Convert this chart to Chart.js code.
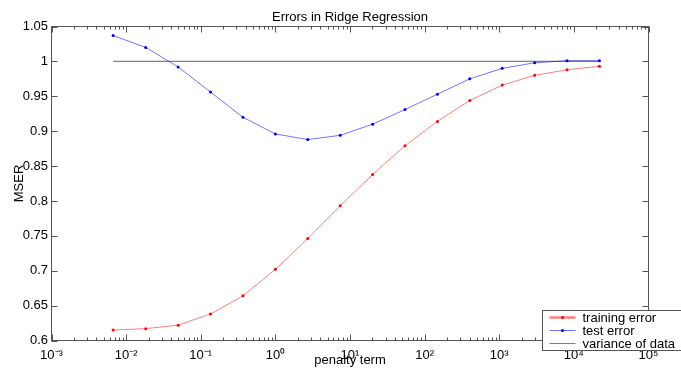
<!DOCTYPE html>
<html>
<head>
<meta charset="utf-8">
<title>Errors in Ridge Regression</title>
<script src="https://cdn.jsdelivr.net/npm/chart.js@4.4.0/dist/chart.umd.min.js"></script>
<style>
  html, body { margin: 0; padding: 0; background: #fff; }
  #wrap { width: 681px; height: 369px; }
</style>
</head>
<body>
<div id="wrap"><canvas id="chart" width="681" height="369"></canvas></div>
<script>
// penalty term values (lambda = e^-5 ... e^10)
const penalty = [0.0067, 0.0183, 0.0498, 0.1353, 0.3679, 1, 2.718, 7.389, 20.09, 54.60, 148.4, 403.4, 1096.6, 2981, 8103, 22026];
const trainingError = [0.615, 0.617, 0.622, 0.638, 0.664, 0.702, 0.746, 0.793, 0.838, 0.879, 0.914, 0.944, 0.966, 0.980, 0.988, 0.993];
const testError = [1.037, 1.020, 0.992, 0.956, 0.920, 0.896, 0.888, 0.894, 0.910, 0.931, 0.953, 0.975, 0.990, 0.998, 1.001, 1.001];
const dataVariance = 1.0;
const seriesNames = ['training error', 'test error', 'variance of data'];
const xTickPowers = [-3, -2, -1, 0, 1, 2, 3, 4, 5];
const yTickValues = [0.6, 0.65, 0.7, 0.75, 0.8, 0.85, 0.9, 0.95, 1, 1.05];
const yTickLabels = ['0.6', '0.65', '0.7', '0.75', '0.8', '0.85', '0.9', '0.95', '1', '1.05'];

const FONT = 'Liberation Sans, Arial, Helvetica, sans-serif';
const SUP = { '-': '\u207B', '0': '\u2070', '1': '\u00B9', '2': '\u00B2', '3': '\u00B3', '4': '\u2074', '5': '\u2075' };

function toPoints(xs, ys) {
  return xs.map((x, i) => ({ x: x, y: ys[i] }));
}

// matlab style box: ticks inside on all four sides
const axesBox = {
  id: 'axesBox',
  afterDatasetsDraw(chart) {
    const { ctx, chartArea: a, scales: { x, y } } = chart;
    ctx.save();
    ctx.strokeStyle = '#555';
    ctx.lineWidth = 1;
    ctx.beginPath();
    yTickValues.forEach(v => {
      const py = Math.round(y.getPixelForValue(v)) + 0.5;
      ctx.moveTo(a.left, py); ctx.lineTo(a.left + 6, py);
      ctx.moveTo(a.right, py); ctx.lineTo(a.right - 6, py);
    });
    xTickPowers.forEach((p, i) => {
      const px = Math.round(x.getPixelForValue(Math.pow(10, p))) + 0.5;
      ctx.moveTo(px, a.bottom); ctx.lineTo(px, a.bottom - 6);
      ctx.moveTo(px, a.top); ctx.lineTo(px, a.top + 6);
      if (i < xTickPowers.length - 1) {
        for (let m = 2; m < 10; m++) {
          const mx = Math.round(x.getPixelForValue(m * Math.pow(10, p))) + 0.5;
          ctx.moveTo(mx, a.bottom); ctx.lineTo(mx, a.bottom - 3);
          ctx.moveTo(mx, a.top); ctx.lineTo(mx, a.top + 3);
        }
      }
    });
    ctx.stroke();
    ctx.strokeRect(a.left, a.top, a.right - a.left, a.bottom - a.top);
    ctx.restore();
  }
};

// boxed legend in the lower right corner
const boxLegend = {
  id: 'boxLegend',
  afterDraw(chart) {
    const ctx = chart.ctx;
    const bx = 542.5, by = 310.5, bw = 140, bh = 40;
    ctx.save();
    ctx.fillStyle = '#fff';
    ctx.fillRect(bx, by, bw, bh);
    ctx.strokeStyle = '#555';
    ctx.lineWidth = 1;
    ctx.strokeRect(bx, by, bw, bh);
    ctx.font = '13px ' + FONT;
    ctx.textBaseline = 'middle';
    chart.data.datasets.forEach((ds, i) => {
      const cy = by + 7 + i * 13;
      ctx.strokeStyle = ds.borderColor;
      ctx.lineWidth = ds.legendWidth;
      ctx.beginPath();
      ctx.moveTo(bx + 7, cy); ctx.lineTo(bx + 33, cy);
      ctx.stroke();
      if (ds.pointRadius > 0) {
        ctx.fillStyle = ds.pointBackgroundColor;
        ctx.beginPath();
        ctx.arc(bx + 20, cy, 1.5, 0, Math.PI * 2);
        ctx.fill();
      }
      ctx.fillStyle = '#000';
      ctx.fillText(ds.label, bx + 40, cy + 0.5);
    });
    ctx.restore();
  }
};

const ctx = document.getElementById('chart').getContext('2d');
const myChart = new Chart(ctx, {
  type: 'scatter',
  data: {
    datasets: [{
      label: seriesNames[0],
      data: toPoints(penalty, trainingError),
      showLine: true,
      borderColor: 'rgba(255, 0, 0, 0.5)',
      borderWidth: 1,
      pointRadius: 1.5,
      pointBackgroundColor: 'rgb(255, 0, 0)',
      pointBorderWidth: 0,
      legendWidth: 2.5
    }, {
      label: seriesNames[1],
      data: toPoints(penalty, testError),
      showLine: true,
      borderColor: 'rgba(0, 0, 255, 0.55)',
      borderWidth: 1,
      pointRadius: 1.5,
      pointBackgroundColor: 'rgb(0, 0, 230)',
      pointBorderWidth: 0,
      legendWidth: 1
    }, {
      label: seriesNames[2],
      data: toPoints([penalty[0], penalty[penalty.length - 1]], [dataVariance, dataVariance]),
      showLine: true,
      borderColor: 'rgb(128, 128, 128)',
      borderWidth: 1.3,
      pointRadius: 0,
      legendWidth: 1
    }]
  },
  options: {
    responsive: false,
    animation: false,
    devicePixelRatio: 1,
    layout: { padding: { top: 0, right: 32.5, bottom: 0, left: 0 } },
    plugins: {
      legend: { display: false },
      tooltip: { enabled: false },
      title: {
        display: true,
        fullSize: false,
        text: 'Errors in Ridge Regression',
        color: '#000',
        font: { family: FONT, size: 13, weight: 'normal', lineHeight: 1.2 },
        padding: { top: 9.2, bottom: 1.7 }
      }
    },
    scales: {
      x: {
        type: 'logarithmic',
        position: 'bottom',
        min: 0.001,
        max: 100000,
        afterBuildTicks: s => { s.ticks = xTickPowers.map(p => ({ value: Math.pow(10, p) })); },
        afterFit: s => { s.height = 28.5; },
        grid: { display: false, drawTicks: false },
        border: { display: false },
        ticks: {
          autoSkip: false,
          maxRotation: 0,
          color: '#000',
          padding: 7,
          font: { family: FONT, size: 13, lineHeight: 1.2 },
          callback: v => '10' + String(Math.round(Math.log10(v))).split('').map(c => SUP[c]).join('')
        },
        title: {
          display: true,
          text: 'penalty term',
          color: '#000',
          font: { family: FONT, size: 13, lineHeight: 1.2 },
          padding: { top: 0, bottom: 1.2 }
        }
      },
      y: {
        type: 'linear',
        min: 0.6,
        max: 1.05,
        afterBuildTicks: s => { s.ticks = yTickValues.map(v => ({ value: v })); },
        afterFit: s => { s.width = 51.5; },
        grid: { display: false, drawTicks: false },
        border: { display: false },
        ticks: {
          color: '#000',
          padding: 3.5,
          font: { family: FONT, size: 13, lineHeight: 1.2 },
          callback: v => yTickLabels[yTickValues.findIndex(t => Math.abs(t - v) < 1e-9)]
        },
        title: {
          display: true,
          text: 'MSER',
          color: '#000',
          font: { family: FONT, size: 13, lineHeight: 1.2 },
          padding: { top: 11.2, bottom: 0 }
        }
      }
    }
  },
  plugins: [axesBox, boxLegend]
});
</script>
</body>
</html>
